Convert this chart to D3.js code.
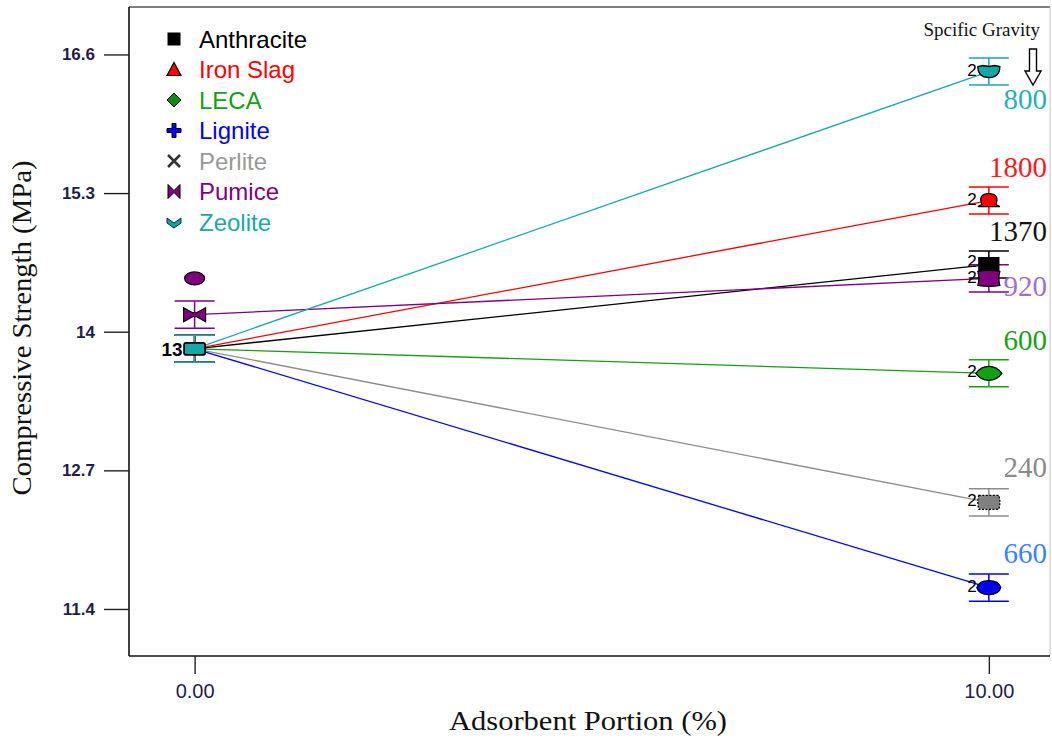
<!DOCTYPE html>
<html>
<head>
<meta charset="utf-8">
<script src="https://cdn.jsdelivr.net/npm/d3@7"></script>
<style>
  body { margin: 0; background: #fff; }
  svg { display: block; }
</style>
</head>
<body>
<svg id="chart" width="1052" height="740"></svg>
<script>
// Compressive strength of mixes vs. adsorbent portion, one line per aggregate
const series = ["Anthracite", "Iron Slag", "LECA", "Lignite", "Perlite", "Pumice", "Zeolite"];
const portions = [0, 10];
const strengthAt0 = [13.84, 13.84, 13.84, 13.84, 13.84, 14.16, 13.84];
const strengthAt10 = [14.63, 15.23, 13.61, 11.60, 12.40, 14.50, 16.44];
const lsdHalfWidth = [0.127, 0.127, 0.127, 0.127, 0.127, 0.127, 0.127];
const specificGravity = ["1370", "1800", "600", "660", "240", "920", "800"];
const pumiceRunAt0 = [14.50];
const replicatesAt0 = "13";
const replicatesAt10 = "2";
const yTickValues = [11.4, 12.7, 14, 15.3, 16.6];
const yTickLabels = ["11.4", "12.7", "14", "15.3", "16.6"];
const xTickValues = [0, 10];
const xTickLabels = ["0.00", "10.00"];

const lineColor = {
  "Anthracite": "#000000", "Iron Slag": "#ff0000", "LECA": "#13a013",
  "Lignite": "#0000ff", "Perlite": "#8c8c8c", "Pumice": "#800080", "Zeolite": "#16a8a8"
};
const legendColor = {
  "Anthracite": "#000000", "Iron Slag": "#ff0000", "LECA": "#14a014",
  "Lignite": "#0000ff", "Perlite": "#999999", "Pumice": "#800080", "Zeolite": "#20a8a8"
};
const gravityColor = {
  "Anthracite": "#111111", "Iron Slag": "#ff1a1a", "LECA": "#1aa01a",
  "Lignite": "#3a82ff", "Perlite": "#8a8a8a", "Pumice": "#a070d0", "Zeolite": "#2ab0b0"
};
// vertical offset of the specific-gravity label relative to the 10 % point
const gravityDy = {
  "Anthracite": -24, "Iron Slag": -24, "LECA": -23, "Lignite": -25,
  "Perlite": -25, "Pumice": 18, "Zeolite": 37
};
// vertical offset of the replicate count next to each 10 % point
const repDy = {
  "Anthracite": 2, "Iron Slag": 4, "LECA": 4, "Lignite": 4,
  "Perlite": 4, "Pumice": 5, "Zeolite": 4
};

const svg = d3.select("#chart");
const plot = { left: 129, right: 1050, top: 7, bottom: 656 };

const x = d3.scaleLinear().domain([-0.826, 10.77]).range([plot.left, plot.right]);
const y = d3.scaleLinear().domain([10.959, 17.045]).range([plot.bottom, plot.top]);

// frame
svg.append("line").attr("x1", plot.left).attr("x2", plot.right).attr("y1", plot.top).attr("y2", plot.top)
  .attr("stroke", "#555").attr("stroke-width", 1.5);
svg.append("line").attr("x1", plot.right).attr("x2", plot.right).attr("y1", plot.top).attr("y2", plot.bottom)
  .attr("stroke", "#c4c4c4").attr("stroke-width", 1);

// axes
const yAxis = d3.axisLeft(y).tickValues(yTickValues).tickSize(25).tickPadding(9)
  .tickFormat((d, i) => yTickLabels[i]);
const gy = svg.append("g").attr("transform", `translate(${plot.left},0)`).call(yAxis);
gy.select(".domain").attr("stroke", "#111").attr("stroke-width", 1.6).attr("d", `M0,${plot.top}V${plot.bottom}`);
gy.selectAll(".tick line").attr("stroke", "#222").attr("stroke-width", 1.4);
gy.selectAll(".tick text").attr("fill", "#1e1e46").attr("font-family", "Liberation Sans, Arial, sans-serif")
  .attr("font-size", 17).attr("font-weight", "bold");

const xAxis = d3.axisBottom(x).tickValues(xTickValues).tickSize(18).tickPadding(10)
  .tickFormat((d, i) => xTickLabels[i]);
const gx = svg.append("g").attr("transform", `translate(0,${plot.bottom})`).call(xAxis);
gx.select(".domain").attr("stroke", "#111").attr("stroke-width", 1.6).attr("d", `M${plot.left},0H${plot.right}`);
gx.selectAll(".tick line").attr("stroke", "#222").attr("stroke-width", 1.4);
gx.selectAll(".tick text").attr("fill", "#1e1e46")
  .attr("font-family", "Liberation Sans Narrow, Arial Narrow, sans-serif").attr("font-size", 20);

// axis titles
svg.append("text").attr("x", 588).attr("y", 730).attr("text-anchor", "middle")
  .attr("font-family", "Liberation Serif, Times New Roman, serif").attr("font-size", 27)
  .attr("textLength", 278).attr("lengthAdjust", "spacingAndGlyphs").attr("fill", "#111")
  .text("Adsorbent Portion (%)");
svg.append("text").attr("transform", "translate(31,328) rotate(-90)").attr("text-anchor", "middle")
  .attr("font-family", "Liberation Serif, Times New Roman, serif").attr("font-size", 27)
  .attr("textLength", 335).attr("lengthAdjust", "spacingAndGlyphs").attr("fill", "#111")
  .text("Compressive Strength (MPa)");

// trend lines
const rows = series.map((s, i) => ({
  name: s, i,
  pts: [[portions[0], strengthAt0[i]], [portions[1], strengthAt10[i]]],
  err: lsdHalfWidth[i]
}));
const lineGen = d3.line().x(d => x(d[0])).y(d => y(d[1]));
const drawOrder = ["Perlite", "Lignite", "LECA", "Anthracite", "Iron Slag", "Pumice", "Zeolite"];
const ordered = drawOrder.map(n => rows[series.indexOf(n)]);

svg.append("g").selectAll("path").data(ordered).join("path")
  .attr("d", d => lineGen(d.pts)).attr("fill", "none")
  .attr("stroke", d => lineColor[d.name]).attr("stroke-width", 1.3);

// error bars at both portions
const capHalf = 20;
const eb = svg.append("g");
ordered.forEach(d => {
  d.pts.forEach(p => {
    const cx = x(p[0]);
    const y1 = y(p[1] - d.err), y2 = y(p[1] + d.err);
    const c = lineColor[d.name];
    eb.append("line").attr("x1", cx).attr("x2", cx).attr("y1", y1).attr("y2", y2).attr("stroke", c).attr("stroke-width", 1.5);
    eb.append("line").attr("x1", cx - capHalf).attr("x2", cx + capHalf).attr("y1", y1).attr("y2", y1).attr("stroke", c).attr("stroke-width", 1.5);
    eb.append("line").attr("x1", cx - capHalf).attr("x2", cx + capHalf).attr("y1", y2).attr("y2", y2).attr("stroke", c).attr("stroke-width", 1.5);
  });
});

// point markers at 10 %
const markerPath = {
  "Zeolite": "M-11,-5 L-6,-6 L0,-5 L6,-6 L11,-5 Q11,6 0,6 Q-11,6 -11,-5 Z",
  "Iron Slag": "M-11,6 L-7,4 Q-11,-7 0,-7 Q11,-7 7,4 L11,6 Z",
  "Anthracite": "M-10,-7 H10 V7 H-10 Z",
  "Pumice": "M-11,-7 Q0,-9 11,-7 Q9,0 11,7 Q0,9 -11,7 Q-9,0 -11,-7 Z",
  "LECA": "M-13,0 Q-8,-7 0,-7 Q8,-7 13,0 Q8,7 0,7 Q-8,7 -13,0 Z",
  "Perlite": "M-10,-7 H10 Q12,0 10,7 H-10 Q-12,0 -10,-7 Z",
  "Lignite": "M-12,0 Q-10,-7 0,-7 Q10,-7 12,0 Q10,7 0,7 Q-10,7 -12,0 Z"
};
const mk = svg.append("g");
ordered.forEach(d => {
  const px = x(d.pts[1][0]), py = y(d.pts[1][1]);
  mk.append("path").attr("d", markerPath[d.name]).attr("transform", `translate(${px},${py})`)
    .attr("fill", d.name === "Perlite" ? "#808080" : lineColor[d.name])
    .attr("stroke", "#000").attr("stroke-width", 1.3)
    .attr("stroke-dasharray", d.name === "Perlite" ? "2,1.5" : null);
  mk.append("text").attr("x", px - 12).attr("y", py + repDy[d.name]).attr("text-anchor", "end")
    .attr("font-family", "Liberation Sans, Arial, sans-serif").attr("font-size", 17).attr("fill", "#000")
    .text(replicatesAt10);
});

// markers at 0 %
const zeo0 = rows[series.indexOf("Zeolite")].pts[0];
const pum0 = rows[series.indexOf("Pumice")].pts[0];
mk.append("ellipse").attr("cx", x(pum0[0])).attr("cy", y(pumiceRunAt0[0])).attr("rx", 10).attr("ry", 6.5)
  .attr("fill", "#800080").attr("stroke", "#000").attr("stroke-width", 1.2);
mk.append("path").attr("transform", `translate(${x(pum0[0])},${y(pum0[1])})`)
  .attr("d", "M-11,-7 L-2,-2 H2 L11,-7 V7 L2,2 H-2 L-11,7 Z")
  .attr("fill", "#800080").attr("stroke", "#000").attr("stroke-width", 1.2);
mk.append("rect").attr("x", x(zeo0[0]) - 10.5).attr("y", y(zeo0[1]) - 6).attr("width", 21).attr("height", 12)
  .attr("rx", 2).attr("fill", "#16a8a8").attr("stroke", "#000").attr("stroke-width", 1.8);
mk.append("text").attr("x", x(zeo0[0]) - 12).attr("y", y(zeo0[1]) + 7).attr("text-anchor", "end")
  .attr("font-family", "Liberation Sans, Arial, sans-serif").attr("font-size", 19).attr("font-weight", "bold")
  .attr("fill", "#000").text(replicatesAt0);

// specific gravity labels
const sg = svg.append("g");
rows.forEach(d => {
  sg.append("text").attr("x", plot.right - 3).attr("y", y(d.pts[1][1]) + gravityDy[d.name])
    .attr("text-anchor", "end").attr("font-family", "Liberation Serif, Times New Roman, serif")
    .attr("font-size", 29).attr("fill", gravityColor[d.name]).text(specificGravity[d.i]);
});
svg.append("text").attr("x", 1040).attr("y", 36).attr("text-anchor", "end")
  .attr("font-family", "Liberation Serif, Times New Roman, serif").attr("font-size", 19)
  .attr("fill", "#111").text("Spcific Gravity");
svg.append("path").attr("d", "M1029.5,49 H1036.5 V71 H1041 L1033,85 L1025,71 H1029.5 Z")
  .attr("fill", "#fff").attr("stroke", "#000").attr("stroke-width", 1.4);

// legend
const legendSym = {
  "Anthracite": g => g.append("rect").attr("x", -6.5).attr("y", -6.5).attr("width", 13).attr("height", 13).attr("fill", "#000"),
  "Iron Slag": g => g.append("path").attr("d", "M0,-7 L7,6 H-7 Z").attr("fill", "#ff0000").attr("stroke", "#000").attr("stroke-width", 1.2),
  "LECA": g => g.append("path").attr("d", "M0,-7 L7,0 L0,7 L-7,0 Z").attr("fill", "#108a10").attr("stroke", "#000").attr("stroke-width", 1),
  "Lignite": g => g.append("path").attr("d", "M-2,-7 H2 V-2 H7 V2 H2 V7 H-2 V2 H-7 V-2 H-2 Z").attr("fill", "#0000ff").attr("stroke", "#000").attr("stroke-width", 1),
  "Perlite": g => g.append("path").attr("d", "M-6,-6 L6,6 M6,-6 L-6,6").attr("stroke", "#333").attr("stroke-width", 2.6),
  "Pumice": g => g.append("path").attr("d", "M-6,-7 L0,-1 L6,-7 V7 L0,1 L-6,7 Z").attr("fill", "#800080").attr("stroke", "#000").attr("stroke-width", 1),
  "Zeolite": g => g.append("path").attr("d", "M-7,-4 L0,1 L7,-4 V1 L0,6 L-7,1 Z").attr("fill", "#16a0a0").attr("stroke", "#034").attr("stroke-width", 1)
};
const legend = svg.append("g").attr("transform", "translate(174,39)");
series.forEach((s, i) => {
  const row = legend.append("g").attr("transform", `translate(0,${i * 30.5})`);
  legendSym[s](row);
  row.append("text").attr("x", 25).attr("y", 8.5).attr("font-family", "Liberation Sans, Arial, sans-serif")
    .attr("font-size", 24).attr("fill", legendColor[s]).text(s);
});
</script>
</body>
</html>
